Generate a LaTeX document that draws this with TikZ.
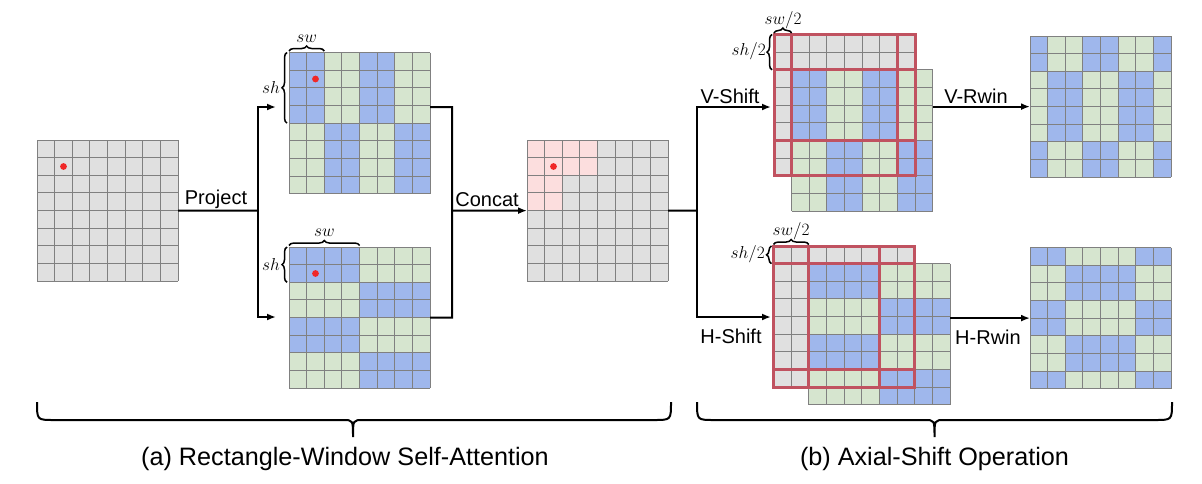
\documentclass[tikz,border=0pt]{standalone}
\usepackage[no-math]{fontspec}
\setmainfont{Liberation Sans}
\usetikzlibrary{arrows.meta,decorations.pathreplacing}
\definecolor{cgray}{RGB}{224,224,224}
\definecolor{cblue}{RGB}{159,183,236}
\definecolor{cgreen}{RGB}{214,229,207}
\definecolor{cpink}{RGB}{252,222,222}
\definecolor{cline}{RGB}{128,128,128}
\definecolor{cwin}{RGB}{192,82,96}
\definecolor{cdot}{RGB}{240,40,40}
\newcommand\cs{17.65}
\newcommand\cellgrid[4]{%
  \foreach \ri in {0,...,7}{\foreach \ci in {0,...,7}{%
    \pgfmathtruncatemacro\kk{#4}%
    \ifcase\kk\relax \def\fc{cgray}\or \def\fc{cblue}\or \def\fc{cgreen}\or \def\fc{cpink}\fi
    \fill[\fc] ({#2+\ci*\cs},{#3+\ri*\cs}) rectangle ++(\cs,\cs);
  }}%
  \foreach \i in {0,...,8}{%
    \draw[gridline] ({#2+\i*\cs},#3) -- ++(0,8*\cs);
    \draw[gridline] (#2,{#3+\i*\cs}) -- ++(8*\cs,0);
  }%
  \node[gridbox,anchor=north west] (#1) at (#2,#3) {};
}
\tikzset{
  gridline/.style={draw=cline,line width=1pt},
  gridbox/.style={inner sep=0pt,outer sep=0pt,minimum width=141.2pt,minimum height=141.2pt},
  conn/.style={line width=2pt,draw=black},
  arr/.style={conn,-{Latex[length=9pt,width=7pt]}},
  lab/.style={font=\fontsize{20}{24}\selectfont,inner sep=0pt},
  biglab/.style={font=\fontsize{25.2}{30}\selectfont,inner sep=0pt},
  mlab/.style={font=\fontsize{16}{19}\selectfont,inner sep=0pt},
  sbrace/.style={line width=1.5pt,decorate,decoration={brace,amplitude=5pt}},
  win/.style={draw=cwin,line width=3pt},
  reddot/.style={fill=cdot}
}
\begin{document}
\begin{tikzpicture}[x=1pt,y=-1pt]
\useasboundingbox (0,0) rectangle (1202,483);
\fill[white] (0,0) rectangle (1202,483);
% grids
\cellgrid{A}{37}{140}{0}
\cellgrid{B}{289}{52.5}{1+mod(floor(\ci/2)+floor(\ri/4),2)}
\cellgrid{C}{289}{247}{1+mod(floor(\ci/4)+floor(\ri/2),2)}
\cellgrid{D}{527}{140}{(((\ri<2)&&(\ci<4))||((\ri<4)&&(\ci<2))) ? 3 : 0}
\cellgrid{Eb}{791.65}{69.8}{1+mod(floor(\ci/2)+floor(\ri/4),2)}
\cellgrid{E}{774}{34.5}{((\ri>=2)&&(\ci>=1)) ? 1+mod(floor((\ci-1)/2)+floor((\ri-2)/4),2) : 0}
\cellgrid{F}{1030}{36}{1+mod(floor((\ci+1)/2)+floor((\ri+2)/4),2)}
\cellgrid{Gb}{808.8}{263.65}{1+mod(floor(\ci/4)+floor(\ri/2),2)}
\cellgrid{G}{773.5}{246}{((\ri>=1)&&(\ci>=2)) ? 1+mod(floor((\ci-2)/4)+floor((\ri-1)/2),2) : 0}
\cellgrid{H}{1030}{247.5}{1+mod(floor((\ci+2)/4)+floor((\ri+1)/2),2)}
% red dots
\foreach \g in {A,B,C,D}{\fill[reddot] (\g.north west) ++(26.5,26.5) circle[radius=3.4pt];}
% windows
\draw[win] (E.north west) rectangle (E.south east);
\draw[win] (791.65,34.5) -- (791.65,175.7);
\draw[win] (897.55,34.5) -- (897.55,175.7);
\draw[win] (774,69.8) -- (915.2,69.8);
\draw[win] (774,140.4) -- (915.2,140.4);
\draw[win] (G.north west) rectangle (G.south east);
\draw[win] (808.8,246) -- (808.8,387.2);
\draw[win] (879.4,246) -- (879.4,387.2);
\draw[win] (773.5,263.65) -- (914.7,263.65);
\draw[win] (773.5,369.55) -- (914.7,369.55);
% small braces
\draw[sbrace] (289,51) -- (324.3,51);
\node[mlab] (swB) at (306.6,39) {$sw$};
\draw[sbrace] (287,123.1) -- (287,52.5);
\node[mlab,anchor=east] (shB) at (280,87) {$sh$};
\draw[sbrace] (289,245.5) -- (359.6,245.5);
\node[mlab] (swC) at (324.3,233) {$sw$};
\draw[sbrace] (287,282.3) -- (287,247);
\node[mlab,anchor=east] (shC) at (280,264) {$sh$};
\draw[sbrace] (774,33) -- (791.65,33);
\node[mlab] (swE) at (783,20) {$sw/2$};
\draw[sbrace] (772,69.8) -- (772,34.5);
\node[mlab,anchor=east] (shE) at (766,51) {$sh/2$};
\draw[sbrace] (773.5,244.5) -- (808.8,244.5);
\node[mlab] (swG) at (791,231) {$sw/2$};
\draw[sbrace] (771.5,263.65) -- (771.5,246);
\node[mlab,anchor=east] (shG) at (765,254) {$sh/2$};
% connectors
\coordinate (j1) at (258,210.6);
\coordinate (tB) at (276,107);
\coordinate (tC) at (276,317);
\draw[conn] (A.east) -- (j1);
\draw[arr] (j1) |- (tB);
\draw[arr] (j1) |- (tC);
\coordinate (j2t) at (452,107);
\coordinate (j2b) at (452,317.6);
\coordinate (j2) at (452,210.6);
\draw[conn] (B.east |- j2t) -- (j2t) -- (j2b) -- (C.east);
\draw[arr] (j2) -- (D.west);
\coordinate (j3) at (697,210.6);
\coordinate (tE) at (771,107);
\coordinate (tG) at (771,317);
\draw[conn] (D.east) -- (j3);
\draw[arr] (j3) |- (tE);
\draw[arr] (j3) |- (tG);
\draw[arr] (Eb.east |- F.west) -- (F.west);
\draw[arr] (Gb.east |- H.west) -- (H.west);
% labels
\node[lab] (lProject) at (216,199) {Project};
\node[lab] (lConcat) at (487,200) {Concat};
\node[lab] (lVS) at (730,96) {V-Shift};
\node[lab] (lVR) at (976,96) {V-Rwin};
\node[lab] (lHS) at (731,336) {H-Shift};
\node[lab] (lHR) at (988,337) {H-Rwin};
% big braces
\draw[line width=2pt] (37,402) .. controls (37,420) .. (54,420) -- (343,420) .. controls (353,420) .. (353,437) .. controls (353,420) .. (363,420) -- (654,420) .. controls (671,420) .. (671,402);
\draw[line width=2pt] (697,402) .. controls (697,420) .. (714,420) -- (924.5,420) .. controls (934.5,420) .. (934.5,437) .. controls (934.5,420) .. (944.5,420) -- (1155,420) .. controls (1172,420) .. (1172,402);
\node[biglab] (la) at (345,459) {(a) Rectangle-Window Self-Attention};
\node[biglab] (lb) at (934.5,459) {(b) Axial-Shift Operation};
\end{tikzpicture}
\end{document}
